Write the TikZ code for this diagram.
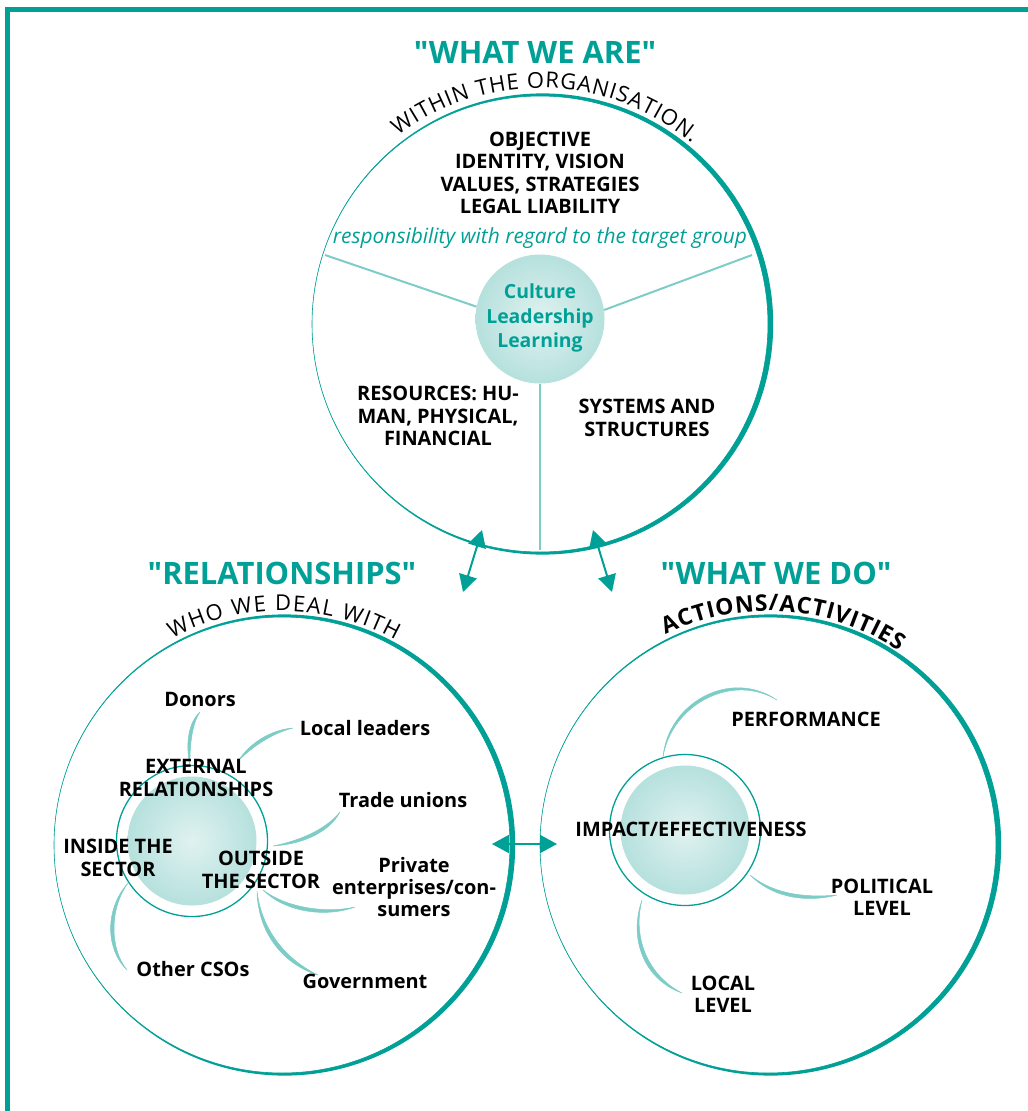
\documentclass[tikz,border=0pt]{standalone}
\usepackage{fontspec}
\setmainfont{Open Sans}
\newfontfamily\ttlfont{Open Sans}[Ligatures=TeXOff]
\usetikzlibrary{arrows.meta,decorations.text}
\definecolor{tealc}{RGB}{0,160,150}
\definecolor{spokec}{RGB}{125,204,198}
\definecolor{sphin}{RGB}{224,242,240}
\definecolor{sphmid}{RGB}{190,228,225}
\definecolor{sphout}{RGB}{140,207,201}
\pgfdeclareradialshading{spheresh}{\pgfpoint{0bp}{0bp}}{color(0bp)=(sphin); color(20bp)=(sphmid); color(50bp)=(sphout)}
\begin{document}
\begin{tikzpicture}[x=1bp,y=-1bp,
  lbl/.style={font=\fontsize{20}{22.5}\selectfont\bfseries, align=center, inner sep=0},
  ttl/.style={font=\ttlfont\fontsize{31}{36}\selectfont\bfseries, text=tealc, inner sep=0},
  ball/.style={circle, minimum size=129bp, inner sep=0, shading=spheresh},
  ring/.style={draw=tealc, line width=1.3},
  spokeline/.style={draw=spokec, line width=2},
  whisker/.style={fill=spokec, draw=spokec, line width=0.5, line join=round},
  dblarrow/.style={draw=tealc, line width=2, {Triangle[length=17bp,width=18bp]}-{Triangle[length=17bp,width=18bp]}},
  arctext/.style={decorate, decoration={text along path, text align={fit to path}}}]
\useasboundingbox (0,0) rectangle (1028,1111);
% frame
\draw[tealc, line width=4.5, line join=miter] (7.7,1111) -- (7.7,9.5) -- (1028,9.5);
% circle centres
\coordinate (cT) at (540,324);
\coordinate (cL) at (282,845);
\coordinate (cR) at (768,845);
% big circles (tapered stroke)
\foreach \c in {cT,cL,cR}{
  \fill[tealc, even odd rule] ([xshift=2.6bp]\c) circle[radius=230.6] (\c) circle[radius=228];
  \draw[tealc, line width=0.6] (\c) circle[radius=228];
}
% titles
\node[ttl] (tA) at (535,52) {"WHAT WE ARE"};
\node[ttl] (tB) at (282,573) {"RELATIONSHIPS"};
\node[ttl] (tC) at (776,573) {"WHAT WE DO"};
% arc texts
\path[arctext, decoration={text={|\fontsize{22}{26}\selectfont|WITHIN THE ORGANISATION.}}] (cT) ++(-127:236) arc[start angle=-127, end angle=-50, radius=236];
\path[arctext, decoration={text={|\fontsize{22}{26}\selectfont|WHO WE DEAL WITH}}] (cL) ++(-118:234) arc[start angle=-118, end angle=-61, radius=234];
\path[arctext, decoration={text={|\fontsize{23}{27}\selectfont\bfseries|ACTIONS/ACTIVITIES}}] (cR) ++(-116:234) arc[start angle=-116, end angle=-56, radius=234];
% top circle
\node[ball] (sT) at (540,319) {};
\coordinate (spL) at (325,255);
\coordinate (spR) at (752,255);
\coordinate (spB) at (540,550);
\draw[spokeline] (sT.169) -- (spL);
\draw[spokeline] (sT.8) -- (spR);
\draw[spokeline] (sT.south) -- (spB);
\node[font=\fontsize{19.5}{24.5}\selectfont\bfseries, text=tealc, align=center, inner sep=0] (cul) at (540,318) {Culture\\Leadership\\Learning};
\node[lbl] (obj) at (540,173) {OBJECTIVE\\IDENTITY, VISION\\VALUES, STRATEGIES\\LEGAL LIABILITY};
\node[font=\fontsize{21}{24}\selectfont\itshape, text=tealc, inner sep=0] (resp) at (540,238) {responsibility with regard to the target group};
\node[lbl] (res) at (438,416) {RESOURCES: HU-\\MAN, PHYSICAL,\\FINANCIAL};
\node[lbl] (sys) at (647,418) {SYSTEMS AND\\STRUCTURES};
% arrows between circles
\coordinate (a1s) at (482,530);
\coordinate (a1e) at (463,592);
\coordinate (a2s) at (593,530);
\coordinate (a2e) at (612,592);
\coordinate (a3s) at (492,844);
\coordinate (a3e) at (557,844);
\draw[dblarrow] (a1s) -- (a1e);
\draw[dblarrow] (a2s) -- (a2e);
\draw[dblarrow] (a3s) -- (a3e);
% left circle
\node[ball] (sL) at (192,841) {};
\draw[ring] (sL) circle[radius=75.5];
\coordinate (wL1a) at (190,766); \coordinate (wL1b) at (200,712);
\coordinate (wL2a) at (238,761); \coordinate (wL2b) at (293,728);
\coordinate (wL3a) at (273,846); \coordinate (wL3b) at (340,812);
\coordinate (wL4a) at (263,890); \coordinate (wL4b) at (355,907);
\coordinate (wL5a) at (257,891); \coordinate (wL5b) at (318,975);
\coordinate (wL6a) at (128,883); \coordinate (wL6b) at (127,970);
\path[whisker] (wL1a) .. controls (185,742) and (189,722) .. (wL1b) .. controls (193,722) and (189.5,742) .. (wL1a) -- cycle;
\path[whisker] (wL2a) .. controls (250,743) and (270,730) .. (wL2b) .. controls (273,733) and (253,746) .. (wL2a) -- cycle;
\path[whisker] (wL3a) .. controls (305,844) and (330,831) .. (wL3b) .. controls (327,828) and (303,840) .. (wL3a) -- cycle;
\path[whisker] (wL4a) .. controls (285,912) and (325,918) .. (wL4b) .. controls (326,913.5) and (287,908) .. (wL4a) -- cycle;
\path[whisker] (wL5a) .. controls (258,935) and (285,965) .. (wL5b) .. controls (289,961) and (262,933) .. (wL5a) -- cycle;
\path[whisker] (wL6a) .. controls (104,910) and (106,950) .. (wL6b) .. controls (110.5,950) and (108.5,910) .. (wL6a) -- cycle;
\node[lbl] (don) at (200,699) {Donors};
\node[lbl] (loc) at (365,728) {Local leaders};
\node[lbl] (ext) at (196,778) {EXTERNAL\\RELATIONSHIPS};
\node[lbl] (tra) at (403,800) {Trade unions};
\node[lbl] (ins) at (118,858) {INSIDE THE\\SECTOR};
\node[lbl] (out) at (261,870) {OUTSIDE\\THE SECTOR};
\node[lbl] (pri) at (414,887) {Private\\enterprises/con-\\sumers};
\node[lbl] (cso) at (193,969) {Other CSOs};
\node[lbl] (gov) at (365,981) {Government};
% right circle
\node[ball] (sR) at (685,830) {};
\draw[ring] (sR) circle[radius=75.5];
\coordinate (wR1a) at (663,757); \coordinate (wR1b) at (777,700);
\coordinate (wR2a) at (750,875); \coordinate (wR2b) at (837,895);
\coordinate (wR3a) at (642,900); \coordinate (wR3b) at (682,993);
\path[whisker] (wR1a) .. controls (668,703) and (730,668) .. (wR1b) .. controls (731,672) and (671,706) .. (wR1a) -- cycle;
\path[whisker] (wR2a) .. controls (775,900) and (810,902) .. (wR2b) .. controls (810,897.5) and (776,896) .. (wR2a) -- cycle;
\path[whisker] (wR3a) .. controls (628,940) and (645,980) .. (wR3b) .. controls (649,976) and (632,939) .. (wR3a) -- cycle;
\node[lbl] (perf) at (806,719) {PERFORMANCE};
\node[lbl] (imp) at (691,829) {IMPACT/EFFECTIVENESS};
\node[lbl] (pol) at (882,897) {POLITICAL\\LEVEL};
\node[lbl] (lcl) at (723,994) {LOCAL\\LEVEL};
\end{tikzpicture}
\end{document}
